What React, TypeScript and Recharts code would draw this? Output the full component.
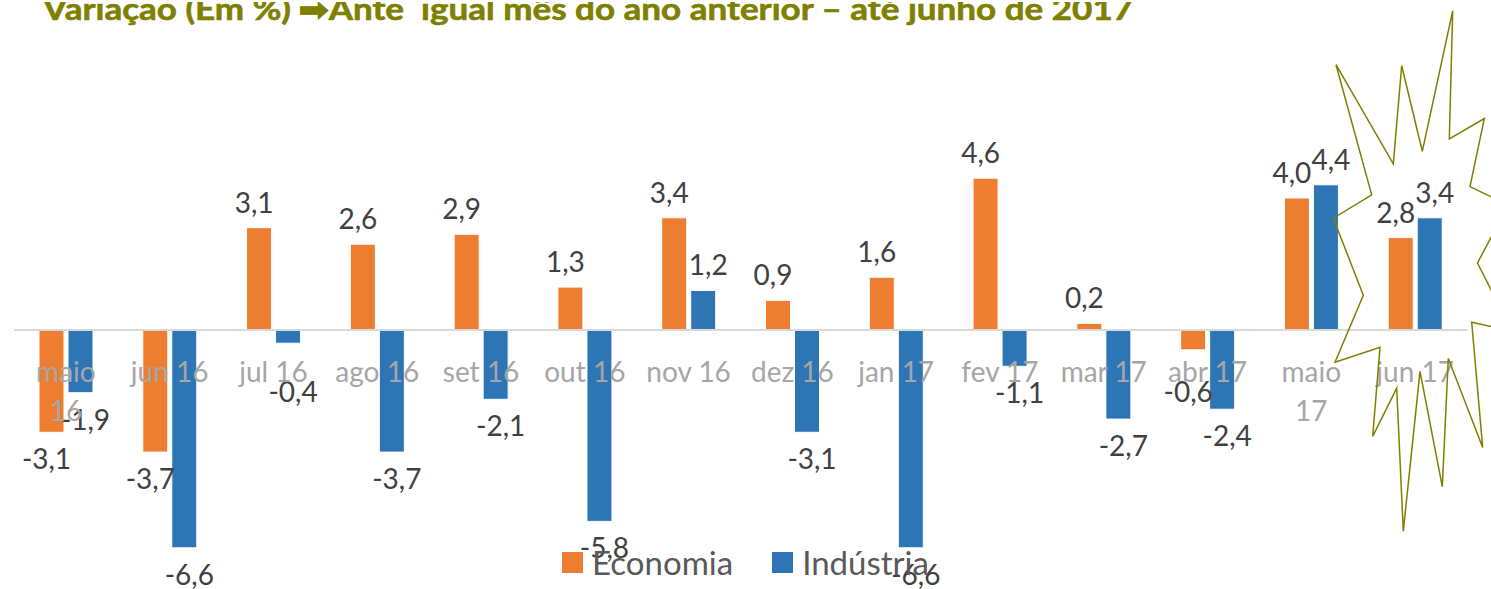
import { BarChart, Bar, XAxis, YAxis, ReferenceLine, LabelList, Legend } from "recharts";

// Variação ante igual mês do ano anterior (%)
const MONTHS = [
  "maio 16", "jun 16", "jul 16", "ago 16", "set 16", "out 16", "nov 16",
  "dez 16", "jan 17", "fev 17", "mar 17", "abr 17", "maio 17", "jun 17",
];
const ECONOMIA = [-3.1, -3.7, 3.1, 2.6, 2.9, 1.3, 3.4, 0.9, 1.6, 4.6, 0.2, -0.6, 4.0, 2.8];
const INDUSTRIA = [-1.9, -6.6, -0.4, -3.7, -2.1, -5.8, 1.2, -3.1, -6.6, -1.1, -2.7, -2.4, 4.4, 3.4];
const Y_DOMAIN: [number, number] = [-7, 6];

const TITLE = "Variação (Em %) ➡Ante  igual mês do ano anterior – até junho de 2017";

const data = MONTHS.map((month, i) => ({
  month,
  economia: ECONOMIA[i],
  industria: INDUSTRIA[i],
}));

const W = 1491;
const H = 589;
const MARGIN = { top: 132, right: 24, bottom: 0, left: 14 };
const XAXIS_H = 28;
const PLOT_H = H - MARGIN.top - MARGIN.bottom - XAXIS_H;
const ZERO_Y = MARGIN.top + (PLOT_H * Y_DOMAIN[1]) / (Y_DOMAIN[1] - Y_DOMAIN[0]);

const ORANGE = "#ED7D31";
const BLUE = "#2E75B6";
const OLIVE = "#7F7F00";
const FONT = "Lato, 'Noto Sans', sans-serif";

// decorative starburst drawn around the last month
const STAR = [
  [1452.7, 10.8], [1449.3, 139], [1484.3, 118.6], [1470, 186.6], [1508, 205],
  [1477.5, 263], [1512, 331], [1471.7, 322.3], [1482.7, 447.6], [1448.3, 358.4],
  [1442.3, 486.6], [1420, 371.4], [1403.3, 531.2], [1396.7, 388.1], [1372.7, 436.4],
  [1380, 347.2], [1335, 362.2], [1363.3, 295.2], [1333.3, 218.2], [1371.7, 194.8],
  [1336, 64.7], [1393.3, 163.9], [1401.7, 65.8], [1422.3, 151.3],
];

const fmt = (v: number) => v.toFixed(1).replace(".", ",");

// negative labels are kept clear of the month labels, like Excel does
const makeLabel = (dx: number) => (props: any) => {
  const { x, y, width, height, value } = props;
  const top = Math.min(y, y + height);
  const bottom = Math.max(y, y + height);
  const ty = value >= 0 ? top - 15 : Math.max(bottom + 37, ZERO_Y + 72);
  return (
    <text x={x + width / 2 + dx} y={ty} textAnchor="middle" fill="#404040" fontSize={28} fontFamily={FONT}>
      {fmt(value)}
    </text>
  );
};
const EconomiaLabel = makeLabel(-5);
const IndustriaLabel = makeLabel(5);

const MonthTick = ({ x, payload }: any) => {
  const label: string = payload.value;
  const lines = label.length > 6 ? label.split(" ") : [label];
  return (
    <text x={x} y={ZERO_Y + 52} textAnchor="middle" fill="#A6A6A6" fontSize={28} fontFamily={FONT}>
      {lines.map((l, i) => (
        <tspan key={i} x={x} dy={i === 0 ? 0 : 39}>{l}</tspan>
      ))}
    </text>
  );
};

const LegendContent = () => (
  <div style={{ display: "flex", justifyContent: "center", alignItems: "center", fontFamily: FONT, fontSize: 33, color: "#595959" }}>
    <span style={{ display: "flex", alignItems: "center", marginRight: 39 }}>
      <span style={{ width: 21, height: 21, background: ORANGE, marginRight: 9 }} />
      Economia
    </span>
    <span style={{ display: "flex", alignItems: "center" }}>
      <span style={{ width: 21, height: 21, background: BLUE, marginRight: 9 }} />
      Indústria
    </span>
  </div>
);

const App = () => (
  <div style={{ position: "absolute", left: 0, top: 0, width: W, height: H, overflow: "hidden", background: "#fff" }}>
    <svg width={W} height={40} style={{ position: "absolute", left: 0, top: 0 }}>
      <defs>
        <clipPath id="titleClip">
          <rect x={0} y={2} width={W} height={38} />
        </clipPath>
      </defs>
      <text
        x={43}
        y={19.5}
        fontSize={30}
        fontWeight={700}
        fontFamily={FONT}
        fill={OLIVE}
        stroke={OLIVE}
        strokeWidth={0.6}
        textLength={1090}
        lengthAdjust="spacingAndGlyphs"
        clipPath="url(#titleClip)"
        style={{ whiteSpace: "pre" }}
      >
        {TITLE}
      </text>
    </svg>
    <div style={{ position: "absolute", left: 0, top: 0 }}>
      <BarChart width={W} height={H} data={data} margin={MARGIN} barGap={4} barSize={25}>
        <YAxis hide type="number" domain={Y_DOMAIN} allowDataOverflow />
        <Bar dataKey="economia" name="Economia" fill={ORANGE} stroke="#fff" strokeWidth={1} isAnimationActive={false}>
          <LabelList dataKey="economia" content={EconomiaLabel} />
        </Bar>
        <Bar dataKey="industria" name="Indústria" fill={BLUE} stroke="#fff" strokeWidth={1} isAnimationActive={false}>
          <LabelList dataKey="industria" content={IndustriaLabel} />
        </Bar>
        <ReferenceLine y={0} stroke="#D9D9D9" strokeWidth={2} />
        <XAxis
          dataKey="month"
          height={XAXIS_H}
          axisLine={false}
          tickLine={false}
          tickSize={0}
          tickMargin={0}
          interval={0}
          tick={<MonthTick />}
        />
        <Legend
          verticalAlign="middle"
          align="center"
          content={<LegendContent />}
          wrapperStyle={{ top: 542, left: 0, width: W }}
        />
      </BarChart>
    </div>
    <svg width={W} height={H} style={{ position: "absolute", left: 0, top: 0, pointerEvents: "none" }}>
      <polygon points={STAR.map((p) => p.join(",")).join(" ")} fill="none" stroke={OLIVE} strokeWidth={1.5} />
    </svg>
  </div>
);

export default App;
